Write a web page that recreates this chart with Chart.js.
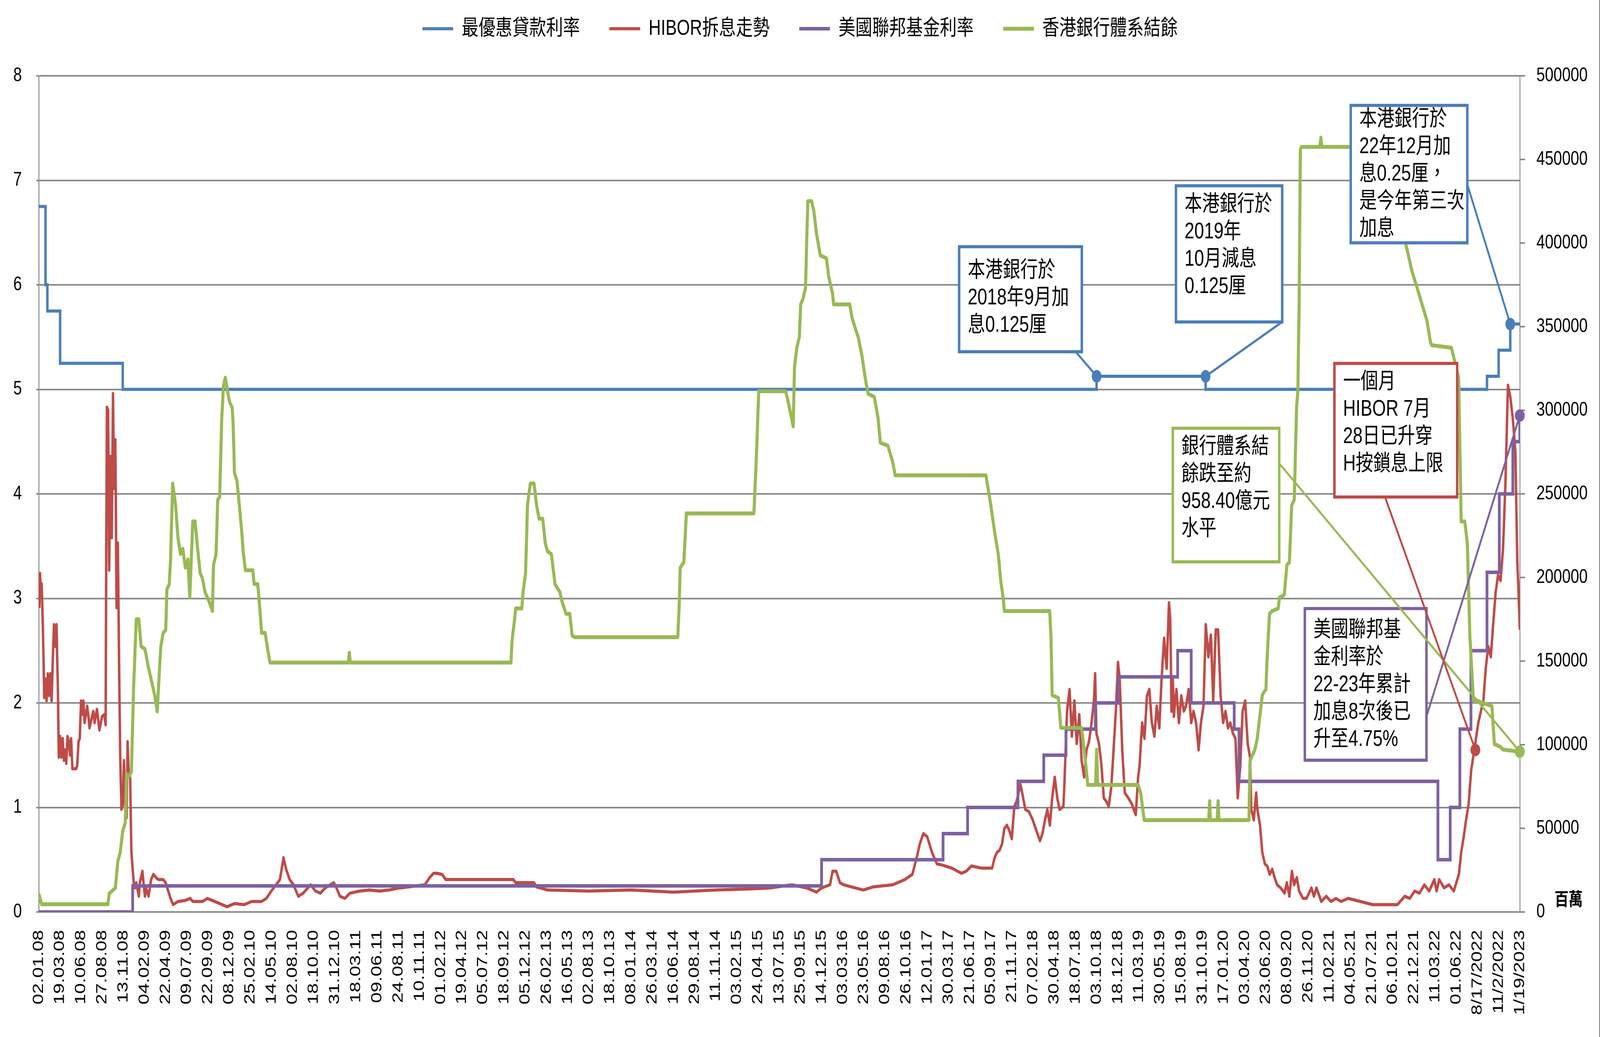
<!DOCTYPE html>
<html lang="zh-Hant">
<head>
<meta charset="UTF-8">
<title>最優惠貸款利率、HIBOR、美國聯邦基金利率及香港銀行體系結餘</title>
<script src="https://cdn.jsdelivr.net/npm/chart.js"></script>
<style>
    html, body { margin: 0; padding: 0; background: #ffffff; overflow: hidden; }
    #chartBox { width: 5206px; height: 2654px; transform-origin: 0 0; }
</style>
</head>
<body>
<div id="chartBox"><canvas id="rateChart" width="5206" height="2654"></canvas></div>
<script>
// x 軸刻度（序號 0-70 對應下列日期）
const dateLabels = [
    '02.01.08', '19.03.08', '10.06.08', '27.08.08', '13.11.08', '04.02.09', '22.04.09', '09.07.09',
    '22.09.09', '08.12.09', '25.02.10', '14.05.10', '02.08.10', '18.10.10', '31.12.10', '18.03.11',
    '09.06.11', '24.08.11', '10.11.11', '01.02.12', '19.04.12', '05.07.12', '18.09.12', '05.12.12',
    '26.02.13', '16.05.13', '02.08.13', '18.10.13', '08.01.14', '26.03.14', '16.06.14', '29.08.14',
    '11.11.14', '03.02.15', '24.04.15', '13.07.15', '25.09.15', '14.12.15', '03.03.16', '23.05.16',
    '09.08.16', '26.10.16', '12.01.17', '30.03.17', '21.06.17', '05.09.17', '21.11.17', '07.02.18',
    '30.04.18', '18.07.18', '03.10.18', '18.12.18', '11.03.19', '30.05.19', '15.08.19', '31.10.19',
    '17.01.20', '03.04.20', '23.06.20', '08.09.20', '26.11.20', '11.02.21', '04.05.21', '21.07.21',
    '06.10.21', '22.12.21', '11.03.22', '01.06.22', '8/17/2022', '11/2/2022', '1/19/2023'
];

// 最優惠貸款利率 [刻度序號, %]（階梯）
const primeRate = [
    [0, 6.75], [0.32, 6.0], [0.41, 5.75], [1.01, 5.25], [3.97, 5.0], [50.0, 5.125], [55.15, 5.0],
    [68.45, 5.125], [69.0, 5.375], [69.55, 5.625], [70, 5.625]
];

// 美國聯邦基金利率 [刻度序號, %]（階梯）
const fedRate = [
    [0, 0], [4.44, 0.25], [37.0, 0.5], [42.74, 0.75], [43.9, 1.0], [46.28, 1.25], [47.5, 1.5],
    [48.55, 1.75], [49.94, 2.0], [51.04, 2.25], [53.83, 2.5], [54.47, 2.0], [56.5, 1.75], [56.73, 1.25],
    [66.13, 0.5], [66.71, 1.0], [67.17, 1.75], [67.69, 2.5], [68.45, 3.25], [69.03, 4.0], [69.67, 4.5],
    [70, 4.75]
];

// HIBOR 拆息走勢 [刻度序號, %]
const hibor = [
    [0.03, 2.91], [0.06, 3.24], [0.11, 3.06], [0.14, 3.14], [0.20, 2.70], [0.26, 2.05], [0.32, 2.23],
    [0.37, 2.02], [0.43, 2.28], [0.49, 2.07], [0.55, 2.28], [0.61, 2.02], [0.66, 2.39], [0.72, 2.75],
    [0.78, 2.54], [0.84, 2.75], [0.90, 2.18], [0.95, 1.48], [1.01, 1.68], [1.07, 1.48], [1.13, 1.66],
    [1.19, 1.45], [1.24, 1.55], [1.30, 1.42], [1.36, 1.68], [1.42, 1.63], [1.48, 1.50], [1.53, 1.66],
    [1.59, 1.37], [1.77, 1.37], [1.82, 1.40], [1.88, 1.63], [1.94, 1.66], [2.00, 2.02], [2.06, 1.89],
    [2.11, 2.02], [2.17, 1.81], [2.29, 1.97], [2.35, 1.87], [2.40, 1.76], [2.52, 1.87], [2.58, 1.92],
    [2.64, 1.81], [2.69, 1.87], [2.75, 1.94], [2.87, 1.74], [2.99, 1.87], [3.10, 1.89], [3.16, 1.79],
    [3.22, 4.83], [3.28, 4.80], [3.33, 3.27], [3.39, 4.36], [3.45, 3.58], [3.51, 4.96], [3.56, 4.05],
    [3.62, 4.52], [3.68, 2.91], [3.74, 3.53], [3.80, 2.33], [3.85, 1.50], [3.91, 0.98], [3.97, 1.03],
    [4.03, 1.45], [4.09, 0.98], [4.15, 0.90], [4.20, 1.63], [4.26, 1.29], [4.32, 1.29], [4.38, 0.57],
    [4.44, 0.41], [4.49, 0.28], [4.55, 0.23], [4.61, 0.28], [4.73, 0.15], [4.78, 0.28], [4.90, 0.39],
    [4.96, 0.26], [5.02, 0.15], [5.07, 0.23], [5.19, 0.15], [5.31, 0.31], [5.42, 0.36], [5.54, 0.33],
    [5.65, 0.31], [5.77, 0.31], [5.88, 0.31], [6.00, 0.28], [6.12, 0.20], [6.23, 0.13], [6.35, 0.07],
    [6.58, 0.10], [6.93, 0.11], [7.16, 0.13], [7.28, 0.10], [7.74, 0.10], [7.97, 0.13], [8.21, 0.11],
    [8.44, 0.09], [8.67, 0.07], [8.90, 0.05], [9.25, 0.08], [9.71, 0.07], [10.06, 0.10], [10.53, 0.10],
    [10.76, 0.13], [10.99, 0.20], [11.22, 0.26], [11.40, 0.31], [11.57, 0.52], [11.69, 0.41],
    [11.86, 0.31], [12.04, 0.26], [12.27, 0.15], [12.50, 0.18], [12.85, 0.26], [13.08, 0.20],
    [13.31, 0.18], [13.54, 0.23], [13.78, 0.26], [13.95, 0.28], [14.07, 0.23], [14.24, 0.15],
    [14.47, 0.13], [14.71, 0.18], [15.17, 0.20], [15.63, 0.21], [16.10, 0.20], [16.56, 0.21],
    [17.03, 0.23], [17.09, 0.23], [18.25, 0.26], [18.48, 0.33], [18.66, 0.37], [18.83, 0.37],
    [19.06, 0.36], [19.24, 0.31], [22.43, 0.31], [22.54, 0.28], [23.41, 0.28], [23.53, 0.24],
    [23.70, 0.23], [24.05, 0.21], [26.0, 0.20], [28.0, 0.21], [30.0, 0.19], [32.0, 0.21], [33.5, 0.22],
    [34.56, 0.23], [35.60, 0.26], [36.30, 0.23], [36.76, 0.19], [37.00, 0.23], [37.40, 0.26],
    [37.52, 0.39], [37.69, 0.39], [37.87, 0.28], [38.04, 0.26], [38.97, 0.21], [39.43, 0.24],
    [40.36, 0.26], [40.94, 0.31], [41.29, 0.36], [41.52, 0.54], [41.64, 0.65], [41.81, 0.75],
    [41.99, 0.72], [42.22, 0.57], [42.45, 0.46], [42.68, 0.45], [43.15, 0.42], [43.61, 0.37],
    [43.84, 0.39], [44.08, 0.44], [44.54, 0.42], [45.06, 0.42], [45.18, 0.52], [45.29, 0.57],
    [45.41, 0.59], [45.53, 0.65], [45.64, 0.80], [45.76, 0.83], [45.87, 0.78], [45.99, 0.70],
    [46.11, 1.01], [46.22, 1.06], [46.40, 1.22], [46.51, 1.11], [46.63, 0.98], [46.80, 0.96],
    [46.98, 0.88], [47.15, 0.78], [47.32, 0.68], [47.44, 0.75], [47.56, 0.88], [47.67, 0.98],
    [47.79, 0.83], [47.90, 1.09], [48.02, 1.29], [48.14, 1.09], [48.25, 0.98], [48.43, 1.01],
    [48.48, 1.24], [48.60, 1.92], [48.72, 2.13], [48.83, 1.68], [48.95, 2.02], [49.06, 1.61],
    [49.18, 1.89], [49.29, 1.45], [49.41, 1.29], [49.52, 1.55], [49.64, 1.63], [49.76, 1.81],
    [49.87, 2.02], [49.93, 2.28], [49.99, 1.71], [50.11, 1.61], [50.22, 1.42], [50.34, 1.09],
    [50.45, 1.06], [50.57, 1.01], [50.69, 1.19], [50.80, 1.55], [50.92, 1.97], [51.01, 2.39],
    [51.09, 2.23], [51.21, 1.55], [51.33, 1.14], [51.50, 1.09], [51.67, 1.03], [51.79, 0.96],
    [51.85, 0.93], [51.96, 1.29], [52.03, 1.40], [52.15, 1.81], [52.26, 1.66], [52.38, 2.07],
    [52.49, 2.13], [52.61, 1.81], [52.73, 1.68], [52.84, 1.97], [52.96, 1.76], [53.07, 2.23],
    [53.19, 2.62], [53.31, 2.33], [53.42, 2.96], [53.48, 2.80], [53.54, 1.92], [53.60, 2.23],
    [53.65, 1.87], [53.77, 2.13], [53.89, 1.81], [54.00, 2.07], [54.12, 1.92], [54.23, 1.97],
    [54.35, 2.13], [54.47, 1.81], [54.58, 1.92], [54.70, 1.81], [54.82, 1.55], [54.93, 1.81],
    [55.05, 1.97], [55.16, 2.75], [55.28, 2.44], [55.40, 2.65], [55.51, 2.02], [55.63, 2.70],
    [55.74, 2.70], [55.86, 2.07], [55.98, 1.81], [56.09, 1.92], [56.21, 1.76], [56.32, 1.81],
    [56.44, 1.71], [56.56, 1.66], [56.67, 1.09], [56.79, 1.40], [56.90, 1.92], [57.02, 2.02],
    [57.14, 1.61], [57.25, 1.48], [57.31, 0.98], [57.43, 0.88], [57.54, 1.14], [57.60, 0.98],
    [57.72, 0.83], [57.83, 0.57], [57.95, 0.46], [58.06, 0.44], [58.18, 0.36], [58.30, 0.41],
    [58.41, 0.33], [58.53, 0.26], [58.70, 0.23], [58.88, 0.18], [58.99, 0.28], [59.11, 0.15],
    [59.23, 0.39], [59.34, 0.26], [59.46, 0.33], [59.57, 0.20], [59.75, 0.13], [59.92, 0.13],
    [60.15, 0.23], [60.27, 0.15], [60.39, 0.23], [60.62, 0.10], [60.85, 0.15], [61.08, 0.10],
    [61.31, 0.13], [61.55, 0.10], [61.89, 0.13], [62.47, 0.10], [63.05, 0.07], [63.64, 0.07],
    [64.22, 0.07], [64.56, 0.15], [64.80, 0.13], [65.03, 0.20], [65.26, 0.18], [65.49, 0.26],
    [65.72, 0.20], [65.96, 0.31], [66.07, 0.20], [66.19, 0.31], [66.42, 0.23], [66.65, 0.26],
    [66.88, 0.20], [67.00, 0.28], [67.12, 0.36], [67.23, 0.57], [67.35, 0.72], [67.46, 0.88],
    [67.58, 1.03], [67.70, 1.35], [67.81, 1.50], [67.93, 1.66], [68.04, 1.81], [68.16, 1.92],
    [68.28, 2.02], [68.39, 2.33], [68.51, 2.54], [68.63, 2.44], [68.74, 2.75], [68.86, 3.06],
    [68.97, 3.22], [69.09, 3.17], [69.21, 3.48], [69.32, 4.10], [69.44, 5.04], [69.55, 4.93],
    [69.67, 4.72], [69.79, 4.41], [69.88, 3.37], [69.94, 3.06], [70.0, 2.70]
];

// 香港銀行體系結餘 [刻度序號, 百萬]
const aggBalance = [
    [0, 11000], [0.14, 4600], [3.27, 4600], [3.33, 11000], [3.62, 14300], [3.74, 30500], [3.85, 35400],
    [3.97, 48400], [4.09, 53300], [4.15, 82500], [4.26, 80900], [4.38, 84100], [4.44, 113400],
    [4.49, 136100], [4.61, 175000], [4.73, 175000], [4.84, 158800], [5.02, 157200], [5.19, 145800],
    [5.31, 139300], [5.48, 129600], [5.60, 119900], [5.71, 145800], [5.77, 158800], [5.88, 166900],
    [6.00, 168500], [6.06, 192900], [6.17, 196100], [6.23, 210800], [6.33, 256200], [6.47, 243200],
    [6.58, 223700], [6.70, 214000], [6.81, 217200], [6.93, 205900], [7.05, 210800], [7.14, 188000],
    [7.28, 233500], [7.39, 233500], [7.51, 217200], [7.63, 202600], [7.74, 199400], [7.86, 191300],
    [8.03, 186400], [8.21, 179900], [8.26, 207500], [8.38, 214000], [8.46, 246500], [8.55, 248100],
    [8.65, 295200], [8.73, 314600], [8.82, 319500], [8.90, 313000], [9.02, 304900], [9.14, 301700],
    [9.19, 291900], [9.25, 262700], [9.37, 257800], [9.48, 243200], [9.60, 227000], [9.66, 215600],
    [9.77, 204300], [10.12, 204300], [10.18, 196100], [10.35, 196100], [10.47, 178300],
    [10.53, 166900], [10.70, 166900], [10.82, 157200], [10.93, 149100], [14.63, 149100],
    [14.68, 155000], [14.73, 149100], [22.32, 149100], [22.37, 162000], [22.49, 175000],
    [22.54, 181500], [22.83, 181500], [22.89, 191300], [23.01, 202600], [23.10, 243200],
    [23.18, 251300], [23.24, 256200], [23.41, 256200], [23.53, 243200], [23.65, 235100],
    [23.82, 235100], [23.94, 220500], [24.05, 215600], [24.23, 214000], [24.40, 196100],
    [24.63, 191300], [24.75, 184800], [24.92, 178300], [25.10, 178300], [25.21, 165300],
    [25.33, 164300], [30.20, 164300], [30.26, 179900], [30.32, 205900], [30.49, 209100],
    [30.61, 238300], [33.80, 238300], [33.92, 272400], [34.03, 311400], [35.30, 311400],
    [35.37, 308100], [35.66, 290300], [35.72, 326000], [35.83, 337400], [35.95, 343800],
    [36.01, 363300], [36.12, 366600], [36.24, 373100], [36.30, 402300], [36.35, 425000],
    [36.53, 425000], [36.64, 418500], [36.76, 405500], [36.94, 392600], [37.23, 390900],
    [37.34, 379600], [37.52, 369800], [37.57, 363300], [38.33, 363300], [38.44, 355200],
    [38.56, 350300], [38.73, 343800], [38.91, 332500], [39.08, 317900], [39.20, 309800],
    [39.49, 308100], [39.67, 295200], [39.78, 280500], [40.13, 278900], [40.36, 269200],
    [40.48, 261100], [44.77, 261100], [44.83, 256200], [45.00, 243200], [45.18, 227000],
    [45.35, 214000], [45.47, 197800], [45.58, 188000], [45.64, 179900], [47.78, 179900],
    [47.84, 165300], [47.90, 129600], [48.19, 128000], [48.31, 110100], [49.29, 110100],
    [49.41, 97100], [49.52, 84100], [49.58, 76000], [49.95, 76000], [50.0, 97000], [50.05, 76000],
    [51.96, 76000], [52.08, 71100], [52.25, 54900], [55.30, 54900], [55.34, 66300], [55.38, 54900],
    [55.70, 54900], [55.74, 66300], [55.78, 54900], [57.20, 54900], [57.25, 90600], [57.48, 97100],
    [57.59, 103600], [57.83, 129600], [57.89, 131200], [58.00, 133000], [58.06, 152300],
    [58.17, 178300], [58.29, 179900], [58.58, 181500], [58.64, 188000], [58.87, 189600],
    [58.99, 207500], [59.11, 209100], [59.22, 243200], [59.34, 246500], [59.45, 301700],
    [59.51, 311400], [59.57, 363300], [59.63, 455900], [59.68, 457500], [60.55, 457500],
    [60.60, 463000], [60.65, 457500], [63.8, 457500], [64.2, 430000], [64.62, 399000],
    [64.91, 382800], [65.15, 373100], [65.38, 363300], [65.61, 353600], [65.78, 340600],
    [65.84, 338900], [66.77, 337400], [66.83, 334100], [67.11, 319500], [67.23, 233500],
    [67.40, 233500], [67.52, 220500], [67.64, 165300], [67.81, 126300], [67.99, 126300],
    [68.68, 123100], [68.80, 100400], [69.09, 98700], [69.21, 97100], [70, 95840]
];

const seriesNames = ['最優惠貸款利率', 'HIBOR拆息走勢', '美國聯邦基金利率', '香港銀行體系結餘'];
const seriesColors = ['#4A7EBB', '#BE4B48', '#7D60A0', '#98B954'];

const FONT = '"Liberation Sans", "Noto Sans CJK TC", sans-serif';
const GRID = '#898989';

// 註解框：box = [左, 右, 上, 下]（刻度序號 / 左軸 %），from = 引線起點，to = 圓點
const notes = [
    { lines: ['本港銀行於', '2018年9月加', '息0.125厘'], color: seriesColors[0],
      box: [43.50, 49.30, 6.365, 5.36], from: [49.01, 5.36], to: [50.0, 5.125], axis: 'y', textTop: 62 },
    { lines: ['本港銀行於', '2019年', '10月減息', '0.125厘'], color: seriesColors[0],
      box: [53.75, 58.77, 6.948, 5.645], from: [58.77, 5.645], to: [55.15, 5.125], axis: 'y', textTop: 49 },
    { lines: ['本港銀行於', '22年12月加', '息0.25厘，', '是今年第三次', '加息'], color: seriesColors[0],
      box: [62.01, 67.52, 7.717, 6.402], from: [67.52, 6.96], to: [69.55, 5.625], axis: 'y', textTop: 37 },
    { lines: ['美國聯邦基', '金利率於', '22-23年累計', '加息8次後已', '升至4.75%'], color: seriesColors[2],
      box: [59.84, 65.59, 2.903, 1.452], from: [65.59, 1.87], to: [70, 4.75], axis: 'y', textTop: 56 },
    { lines: ['銀行體系結', '餘跌至約', '958.40億元', '水平'], color: seriesColors[3],
      box: [53.60, 58.63, 4.628, 3.350], from: [58.68, 4.28], to: [70, 95840], axis: 'y1', textTop: 48 },
    { lines: ['一個月', 'HIBOR 7月', '28日已升穿', 'H按鎖息上限'], color: seriesColors[1],
      box: [61.24, 67.04, 5.248, 3.970], from: [63.63, 3.97], to: [67.9, 1.55], axis: 'y', textTop: 48 }
];

// 畫註解框、引線、圓點、右軸單位及右邊框
const notePlugin = {
    id: 'notePlugin',
    afterDatasetsDraw(chart) {
        const ctx = chart.ctx;
        const xs = chart.scales.x;
        const yl = chart.scales.y;
        ctx.save();
        notes.forEach(n => {
            const left = xs.getPixelForValue(n.box[0]);
            const right = xs.getPixelForValue(n.box[1]);
            const top = yl.getPixelForValue(n.box[2]);
            const bottom = yl.getPixelForValue(n.box[3]);
            ctx.fillStyle = '#ffffff';
            ctx.fillRect(left, top, right - left, bottom - top);
            ctx.lineWidth = 8;
            ctx.strokeStyle = n.color;
            ctx.strokeRect(left, top, right - left, bottom - top);
            ctx.fillStyle = '#000000';
            ctx.font = '57px ' + FONT;
            ctx.textAlign = 'left';
            ctx.textBaseline = 'middle';
            n.lines.forEach((t, i) => ctx.fillText(t, left + 28, top + n.textTop + i * 70));
        });
        notes.forEach(n => {
            const ya = chart.scales[n.axis];
            const x0 = xs.getPixelForValue(n.from[0]);
            const y0 = yl.getPixelForValue(n.from[1]);
            const x1 = xs.getPixelForValue(n.to[0]);
            const y1 = ya.getPixelForValue(n.to[1]);
            ctx.strokeStyle = n.color;
            ctx.lineWidth = 6;
            ctx.beginPath();
            ctx.moveTo(x0, y0);
            ctx.lineTo(x1, y1);
            ctx.stroke();
            ctx.fillStyle = n.color;
            ctx.beginPath();
            ctx.arc(x1, y1, 16, 0, Math.PI * 2);
            ctx.fill();
        });
        ctx.fillStyle = '#000000';
        ctx.font = 'bold 46px "Noto Sans CJK TC", sans-serif';
        ctx.textAlign = 'left';
        ctx.textBaseline = 'middle';
        ctx.fillText('百萬', chart.chartArea.right + 113, chart.chartArea.bottom - 34);
        ctx.fillStyle = GRID;
        ctx.fillRect(chart.width - 3, 0, 3, chart.height);
        ctx.restore();
    }
};

// 圖表按 5206x2654 繪製，再縮放至實際視窗大小
function fitToWindow() {
    const sx = window.innerWidth / 5206;
    const sy = window.innerHeight / 2654;
    document.getElementById('chartBox').style.transform = 'scale(' + sx + ',' + sy + ')';
}

document.addEventListener('DOMContentLoaded', function () {
    fitToWindow();
    Chart.defaults.font.family = FONT;
    Chart.defaults.color = '#000000';

    const ctx = document.getElementById('rateChart').getContext('2d');
    const rateChart = new Chart(ctx, {
        type: 'line',
        data: {
            datasets: [{
                label: seriesNames[0],
                data: primeRate,
                yAxisID: 'y',
                borderColor: seriesColors[0],
                backgroundColor: seriesColors[0],
                borderWidth: 8,
                stepped: true,
                pointRadius: 0,
                order: 4
            }, {
                label: seriesNames[1],
                data: hibor,
                yAxisID: 'y',
                borderColor: seriesColors[1],
                backgroundColor: seriesColors[1],
                borderWidth: 8,
                borderJoinStyle: 'round',
                pointRadius: 0,
                order: 3
            }, {
                label: seriesNames[2],
                data: fedRate,
                yAxisID: 'y',
                borderColor: seriesColors[2],
                backgroundColor: seriesColors[2],
                borderWidth: 9,
                stepped: true,
                pointRadius: 0,
                order: 2
            }, {
                label: seriesNames[3],
                data: aggBalance,
                yAxisID: 'y1',
                borderColor: seriesColors[3],
                backgroundColor: seriesColors[3],
                borderWidth: 10,
                borderJoinStyle: 'round',
                pointRadius: 0,
                order: 1
            }]
        },
        options: {
            responsive: false,
            animation: false,
            devicePixelRatio: 1,
            events: [],
            layout: {
                padding: { top: -50, left: 0, right: 0, bottom: 0 }
            },
            scales: {
                x: {
                    type: 'linear',
                    min: 0,
                    max: 70,
                    afterFit: s => { s.height = 320; },
                    ticks: {
                        stepSize: 1,
                        autoSkip: false,
                        maxRotation: 90,
                        minRotation: 90,
                        padding: 38,
                        color: '#000000',
                        font: { size: 49 },
                        callback: (v) => dateLabels[Math.round(v)]
                    },
                    grid: { display: false },
                    border: { display: true, color: GRID, width: 4 }
                },
                y: {
                    position: 'left',
                    min: 0,
                    max: 8,
                    afterFit: s => { s.width = 126; },
                    ticks: {
                        stepSize: 1,
                        padding: 47,
                        color: '#000000',
                        font: { size: 50 }
                    },
                    grid: { color: GRID, lineWidth: 4, tickLength: 8 },
                    border: { display: true, color: GRID, width: 3 }
                },
                y1: {
                    position: 'right',
                    min: 0,
                    max: 500000,
                    afterFit: s => { s.width = 261; },
                    ticks: {
                        stepSize: 50000,
                        padding: 37,
                        color: '#000000',
                        font: { size: 50 },
                        callback: (v) => String(v)
                    },
                    grid: { drawOnChartArea: false, color: GRID, lineWidth: 4, tickLength: 17 },
                    border: { display: true, color: GRID, width: 3 }
                }
            },
            plugins: {
                legend: {
                    position: 'top',
                    labels: {
                        usePointStyle: true,
                        pointStyle: 'line',
                        pointStyleWidth: 100,
                        boxHeight: 10,
                        padding: 96,
                        color: '#000000',
                        font: { size: 55 },
                        sort: (a, b) => a.datasetIndex - b.datasetIndex
                    }
                },
                // 圖例下方留白
                title: {
                    display: true,
                    text: '',
                    position: 'top',
                    weight: 500,
                    font: { size: 10 },
                    padding: { top: 0, bottom: 71 }
                },
                tooltip: { enabled: false }
            }
        },
        plugins: [notePlugin]
    });
});
</script>
</body>
</html>
